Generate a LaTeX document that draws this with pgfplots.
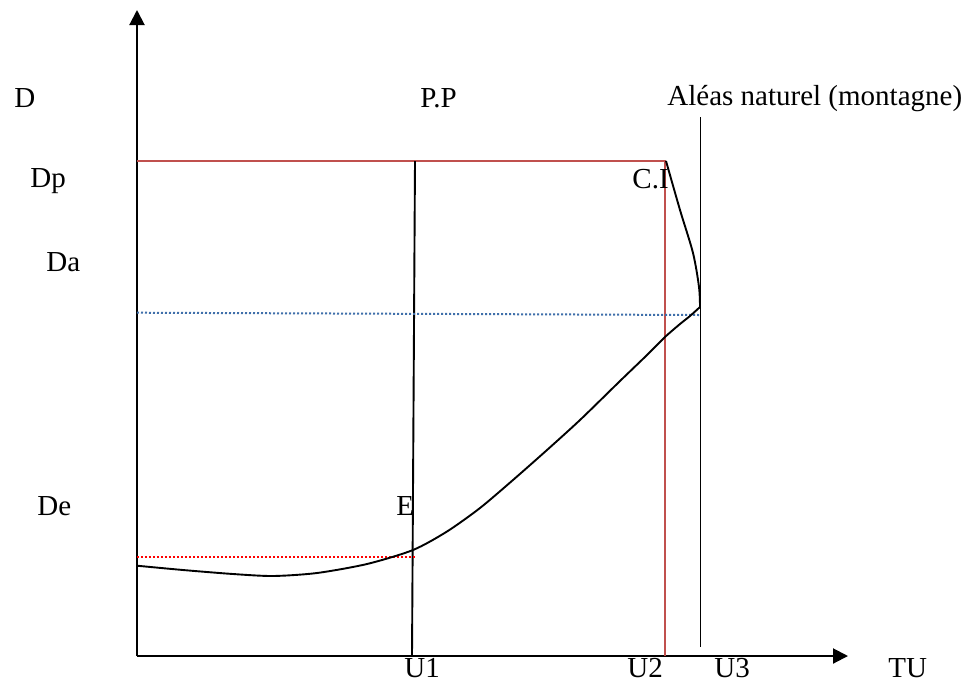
\documentclass[border=0pt]{standalone}
\usepackage{fontspec}
\setmainfont{Liberation Serif}
\usepackage{pgfplots}
\pgfplotsset{compat=1.18}
\usetikzlibrary{arrows.meta}
\definecolor{wordred}{HTML}{C0504D}
\definecolor{wordblue}{HTML}{3F6FAA}

\begin{document}
\begin{tikzpicture}
\begin{axis}[
    scale only axis,
    width=355.5pt, height=323pt,
    xmin=0, xmax=711, ymin=0, ymax=646,
    hide axis, clip=false,
    every axis plot/.append style={line width=0.95pt},
    nodes={font=\fontsize{14.5}{17}\selectfont, inner sep=0pt, anchor=base west},
]
% bounding box of the whole figure (972 x 682 px)
\path (axis cs:-137,-26) rectangle (axis cs:835,656);

% axes
\addplot[black, line width=1pt, -{Triangle[length=7.5pt,width=7.5pt]}] coordinates {(0,0) (711,0)};
\addplot[black, line width=1pt, -{Triangle[length=7.5pt,width=7.5pt]}] coordinates {(0,0) (0,646)};

% Dp level and U2
\addplot[wordred] coordinates {(0,495) (529,495)};
\addplot[wordred] coordinates {(528,495) (528,0)};

% P.P and U3 verticals
\addplot[black] coordinates {(278,495) (275,0)};
\addplot[black] coordinates {(563.5,539) (563.5,9)};

% Da and De dotted levels
\addplot[wordblue, line width=1pt, dash pattern=on 1pt off 1pt] coordinates {(0,343.3) (563,341)};
\addplot[red, line width=1pt, dash pattern=on 1pt off 1pt] coordinates {(0,99.3) (279,99.3)};

% C.I curve
\addplot[black, smooth] coordinates {
  (529,495) (543,446) (556,403) (562,369) (563,349)
};

% main curve
\addplot[black, smooth, tension=0.45] coordinates {
  (0,90.3) (46,86) (96,82) (136,80) (180,83) (230,92) (276,106)
  (310,124.5) (343,148) (376,176) (410,206) (443,236)
  (483,275) (510,301) (528,319) (543,332) (553,340) (563,349)
};

% labels
\node at (axis cs:-123,549) {D};
\node at (axis cs:283,549) {P.P};
\node at (axis cs:530,551) {Aléas naturel (montagne)};
\node at (axis cs:-107,469) {Dp};
\node at (axis cs:495,468) {C.I};
\node at (axis cs:-91,385) {Da};
\node at (axis cs:-100,141) {De};
\node at (axis cs:259,141) {E};
\node at (axis cs:267,-21) {U1};
\node at (axis cs:490,-21) {U2};
\node at (axis cs:577,-21) {U3};
\node at (axis cs:751,-21) {TU};
\end{axis}
\end{tikzpicture}
\end{document}
